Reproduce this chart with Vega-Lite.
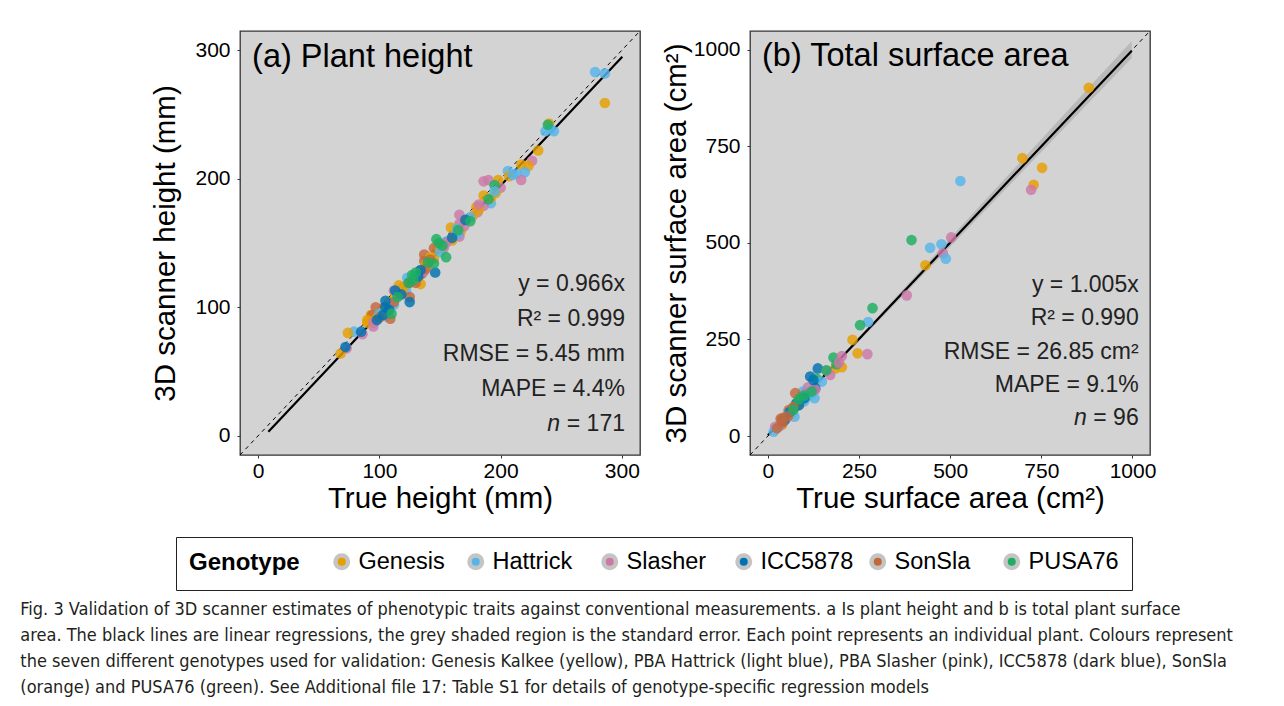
{
  "$schema": "https://vega.github.io/schema/vega-lite/v6.json",
  "background": "white",
  "padding": {"left": 20, "top": 29, "right": 5, "bottom": 5},
  "datasets": {
    "height": [
      {"true": 278, "scanner": 283, "genotype": "Hattrick"},
      {"true": 286, "scanner": 282, "genotype": "Hattrick"},
      {"true": 286, "scanner": 259, "genotype": "Genesis"},
      {"true": 240, "scanner": 243, "genotype": "Genesis"},
      {"true": 237, "scanner": 237, "genotype": "Hattrick"},
      {"true": 244, "scanner": 237, "genotype": "Hattrick"},
      {"true": 241, "scanner": 239, "genotype": "Hattrick"},
      {"true": 239, "scanner": 242, "genotype": "PUSA76"},
      {"true": 231, "scanner": 222, "genotype": "Genesis"},
      {"true": 226, "scanner": 214, "genotype": "Slasher"},
      {"true": 217, "scanner": 211, "genotype": "Genesis"},
      {"true": 223, "scanner": 210, "genotype": "Genesis"},
      {"true": 206, "scanner": 206, "genotype": "Hattrick"},
      {"true": 213, "scanner": 204, "genotype": "Hattrick"},
      {"true": 220, "scanner": 205, "genotype": "Hattrick"},
      {"true": 217, "scanner": 199, "genotype": "Slasher"},
      {"true": 186, "scanner": 198, "genotype": "Slasher"},
      {"true": 190, "scanner": 199, "genotype": "Slasher"},
      {"true": 198, "scanner": 199, "genotype": "Genesis"},
      {"true": 200, "scanner": 193, "genotype": "Slasher"},
      {"true": 196, "scanner": 189, "genotype": "Genesis"},
      {"true": 195, "scanner": 195, "genotype": "PUSA76"},
      {"true": 186, "scanner": 187, "genotype": "Genesis"},
      {"true": 192, "scanner": 181, "genotype": "Hattrick"},
      {"true": 186, "scanner": 179, "genotype": "Slasher"},
      {"true": 180, "scanner": 178, "genotype": "Genesis"},
      {"true": 181, "scanner": 174, "genotype": "Slasher"},
      {"true": 177, "scanner": 171, "genotype": "Genesis"},
      {"true": 166, "scanner": 172, "genotype": "Slasher"},
      {"true": 166, "scanner": 165, "genotype": "Slasher"},
      {"true": 159, "scanner": 162, "genotype": "Genesis"},
      {"true": 164, "scanner": 161, "genotype": "Hattrick"},
      {"true": 167, "scanner": 159, "genotype": "Genesis"},
      {"true": 160, "scanner": 154, "genotype": "Slasher"},
      {"true": 166, "scanner": 155, "genotype": "Slasher"},
      {"true": 155, "scanner": 151, "genotype": "Hattrick"},
      {"true": 152, "scanner": 147, "genotype": "Genesis"},
      {"true": 153, "scanner": 146, "genotype": "Slasher"},
      {"true": 148, "scanner": 145, "genotype": "Genesis"},
      {"true": 137, "scanner": 141, "genotype": "SonSla"},
      {"true": 145, "scanner": 146, "genotype": "SonSla"},
      {"true": 142, "scanner": 139, "genotype": "Genesis"},
      {"true": 137, "scanner": 136, "genotype": "SonSla"},
      {"true": 138, "scanner": 133, "genotype": "Genesis"},
      {"true": 135, "scanner": 126, "genotype": "SonSla"},
      {"true": 137, "scanner": 128, "genotype": "Slasher"},
      {"true": 123, "scanner": 123, "genotype": "Hattrick"},
      {"true": 134, "scanner": 118, "genotype": "Genesis"},
      {"true": 130, "scanner": 119, "genotype": "SonSla"},
      {"true": 116, "scanner": 117, "genotype": "Genesis"},
      {"true": 112, "scanner": 113, "genotype": "Slasher"},
      {"true": 119, "scanner": 111, "genotype": "Slasher"},
      {"true": 122, "scanner": 113, "genotype": "Hattrick"},
      {"true": 125, "scanner": 108, "genotype": "SonSla"},
      {"true": 113, "scanner": 108, "genotype": "Genesis"},
      {"true": 112, "scanner": 102, "genotype": "Hattrick"},
      {"true": 97, "scanner": 100, "genotype": "SonSla"},
      {"true": 104, "scanner": 100, "genotype": "SonSla"},
      {"true": 93, "scanner": 94, "genotype": "Genesis"},
      {"true": 94, "scanner": 94, "genotype": "SonSla"},
      {"true": 105, "scanner": 93, "genotype": "Hattrick"},
      {"true": 109, "scanner": 91, "genotype": "SonSla"},
      {"true": 90, "scanner": 90, "genotype": "Genesis"},
      {"true": 95, "scanner": 85, "genotype": "Slasher"},
      {"true": 90, "scanner": 88, "genotype": "Genesis"},
      {"true": 79, "scanner": 81, "genotype": "Hattrick"},
      {"true": 74, "scanner": 80, "genotype": "Genesis"},
      {"true": 86, "scanner": 79, "genotype": "Slasher"},
      {"true": 73, "scanner": 68, "genotype": "Slasher"},
      {"true": 68, "scanner": 64, "genotype": "Genesis"},
      {"true": 98, "scanner": 92, "genotype": "Genesis"},
      {"true": 102, "scanner": 96, "genotype": "Genesis"},
      {"true": 108, "scanner": 104, "genotype": "Genesis"},
      {"true": 118, "scanner": 112, "genotype": "Genesis"},
      {"true": 128, "scanner": 122, "genotype": "Genesis"},
      {"true": 140, "scanner": 133, "genotype": "Genesis"},
      {"true": 150, "scanner": 146, "genotype": "Genesis"},
      {"true": 160, "scanner": 152, "genotype": "Genesis"},
      {"true": 172, "scanner": 168, "genotype": "Genesis"},
      {"true": 182, "scanner": 176, "genotype": "Genesis"},
      {"true": 192, "scanner": 185, "genotype": "Genesis"},
      {"true": 207, "scanner": 202, "genotype": "Genesis"},
      {"true": 120, "scanner": 116, "genotype": "Genesis"},
      {"true": 145, "scanner": 138, "genotype": "Genesis"},
      {"true": 100, "scanner": 95, "genotype": "Hattrick"},
      {"true": 110, "scanner": 103, "genotype": "Hattrick"},
      {"true": 130, "scanner": 124, "genotype": "Hattrick"},
      {"true": 150, "scanner": 143, "genotype": "Hattrick"},
      {"true": 165, "scanner": 157, "genotype": "Hattrick"},
      {"true": 175, "scanner": 170, "genotype": "Hattrick"},
      {"true": 195, "scanner": 190, "genotype": "Hattrick"},
      {"true": 210, "scanner": 203, "genotype": "Hattrick"},
      {"true": 95, "scanner": 88, "genotype": "Slasher"},
      {"true": 115, "scanner": 110, "genotype": "Slasher"},
      {"true": 135, "scanner": 128, "genotype": "Slasher"},
      {"true": 155, "scanner": 150, "genotype": "Slasher"},
      {"true": 170, "scanner": 163, "genotype": "Slasher"},
      {"true": 182, "scanner": 180, "genotype": "Slasher"},
      {"true": 100, "scanner": 92, "genotype": "SonSla"},
      {"true": 112, "scanner": 104, "genotype": "SonSla"},
      {"true": 125, "scanner": 119, "genotype": "SonSla"},
      {"true": 138, "scanner": 130, "genotype": "SonSla"},
      {"true": 142, "scanner": 137, "genotype": "SonSla"},
      {"true": 171, "scanner": 168, "genotype": "ICC5878"},
      {"true": 146, "scanner": 127, "genotype": "ICC5878"},
      {"true": 134, "scanner": 129, "genotype": "ICC5878"},
      {"true": 113, "scanner": 113, "genotype": "ICC5878"},
      {"true": 125, "scanner": 104, "genotype": "ICC5878"},
      {"true": 105, "scanner": 105, "genotype": "ICC5878"},
      {"true": 105, "scanner": 100, "genotype": "ICC5878"},
      {"true": 103, "scanner": 94, "genotype": "ICC5878"},
      {"true": 85, "scanner": 81, "genotype": "ICC5878"},
      {"true": 72, "scanner": 69, "genotype": "ICC5878"},
      {"true": 98, "scanner": 90, "genotype": "ICC5878"},
      {"true": 108, "scanner": 98, "genotype": "ICC5878"},
      {"true": 118, "scanner": 110, "genotype": "ICC5878"},
      {"true": 132, "scanner": 124, "genotype": "ICC5878"},
      {"true": 160, "scanner": 154, "genotype": "ICC5878"},
      {"true": 175, "scanner": 167, "genotype": "PUSA76"},
      {"true": 147, "scanner": 153, "genotype": "PUSA76"},
      {"true": 149, "scanner": 150, "genotype": "PUSA76"},
      {"true": 155, "scanner": 139, "genotype": "PUSA76"},
      {"true": 145, "scanner": 134, "genotype": "PUSA76"},
      {"true": 130, "scanner": 127, "genotype": "PUSA76"},
      {"true": 127, "scanner": 125, "genotype": "PUSA76"},
      {"true": 124, "scanner": 119, "genotype": "PUSA76"},
      {"true": 110, "scanner": 95, "genotype": "PUSA76"},
      {"true": 115, "scanner": 108, "genotype": "PUSA76"},
      {"true": 128, "scanner": 121, "genotype": "PUSA76"},
      {"true": 140, "scanner": 135, "genotype": "PUSA76"},
      {"true": 152, "scanner": 148, "genotype": "PUSA76"},
      {"true": 165, "scanner": 160, "genotype": "PUSA76"},
      {"true": 190, "scanner": 184, "genotype": "PUSA76"}
    ],
    "area": [
      {"true": 880, "scanner": 901, "genotype": "Genesis"},
      {"true": 698, "scanner": 719, "genotype": "Genesis"},
      {"true": 752, "scanner": 694, "genotype": "Genesis"},
      {"true": 729, "scanner": 650, "genotype": "Genesis"},
      {"true": 722, "scanner": 637, "genotype": "Slasher"},
      {"true": 528, "scanner": 660, "genotype": "Hattrick"},
      {"true": 394, "scanner": 507, "genotype": "PUSA76"},
      {"true": 503, "scanner": 514, "genotype": "Slasher"},
      {"true": 476, "scanner": 496, "genotype": "Hattrick"},
      {"true": 445, "scanner": 487, "genotype": "Hattrick"},
      {"true": 480, "scanner": 473, "genotype": "Slasher"},
      {"true": 488, "scanner": 459, "genotype": "Hattrick"},
      {"true": 432, "scanner": 442, "genotype": "Genesis"},
      {"true": 381, "scanner": 364, "genotype": "Slasher"},
      {"true": 287, "scanner": 331, "genotype": "PUSA76"},
      {"true": 275, "scanner": 295, "genotype": "Hattrick"},
      {"true": 253, "scanner": 287, "genotype": "PUSA76"},
      {"true": 232, "scanner": 249, "genotype": "Genesis"},
      {"true": 246, "scanner": 214, "genotype": "Genesis"},
      {"true": 273, "scanner": 212, "genotype": "Slasher"},
      {"true": 180, "scanner": 203, "genotype": "PUSA76"},
      {"true": 203, "scanner": 207, "genotype": "Slasher"},
      {"true": 203, "scanner": 178, "genotype": "Genesis"},
      {"true": 185, "scanner": 175, "genotype": "Genesis"},
      {"true": 188, "scanner": 186, "genotype": "PUSA76"},
      {"true": 137, "scanner": 175, "genotype": "ICC5878"},
      {"true": 162, "scanner": 169, "genotype": "Slasher"},
      {"true": 171, "scanner": 158, "genotype": "Slasher"},
      {"true": 116, "scanner": 154, "genotype": "ICC5878"},
      {"true": 133, "scanner": 149, "genotype": "PUSA76"},
      {"true": 148, "scanner": 141, "genotype": "Hattrick"},
      {"true": 130, "scanner": 124, "genotype": "ICC5878"},
      {"true": 110, "scanner": 126, "genotype": "Slasher"},
      {"true": 96, "scanner": 115, "genotype": "Hattrick"},
      {"true": 110, "scanner": 104, "genotype": "PUSA76"},
      {"true": 128, "scanner": 98, "genotype": "Hattrick"},
      {"true": 89, "scanner": 98, "genotype": "PUSA76"},
      {"true": 75, "scanner": 111, "genotype": "SonSla"},
      {"true": 78, "scanner": 85, "genotype": "ICC5878"},
      {"true": 80, "scanner": 80, "genotype": "PUSA76"},
      {"true": 71, "scanner": 72, "genotype": "ICC5878"},
      {"true": 57, "scanner": 67, "genotype": "SonSla"},
      {"true": 73, "scanner": 50, "genotype": "Hattrick"},
      {"true": 48, "scanner": 50, "genotype": "SonSla"},
      {"true": 39, "scanner": 42, "genotype": "ICC5878"},
      {"true": 43, "scanner": 46, "genotype": "SonSla"},
      {"true": 20, "scanner": 24, "genotype": "Slasher"},
      {"true": 16, "scanner": 11, "genotype": "Hattrick"},
      {"true": 39, "scanner": 29, "genotype": "Genesis"},
      {"true": 31, "scanner": 26, "genotype": "SonSla"},
      {"true": 57, "scanner": 59, "genotype": "Hattrick"},
      {"true": 94, "scanner": 102, "genotype": "PUSA76"},
      {"true": 103, "scanner": 111, "genotype": "Slasher"},
      {"true": 60, "scanner": 55, "genotype": "Genesis"},
      {"true": 90, "scanner": 85, "genotype": "Genesis"},
      {"true": 30, "scanner": 25, "genotype": "Hattrick"},
      {"true": 65, "scanner": 60, "genotype": "Hattrick"},
      {"true": 100, "scanner": 90, "genotype": "Hattrick"},
      {"true": 120, "scanner": 110, "genotype": "Hattrick"},
      {"true": 35, "scanner": 30, "genotype": "Slasher"},
      {"true": 50, "scanner": 45, "genotype": "Slasher"},
      {"true": 130, "scanner": 120, "genotype": "Slasher"},
      {"true": 195, "scanner": 190, "genotype": "Slasher"},
      {"true": 45, "scanner": 40, "genotype": "ICC5878"},
      {"true": 60, "scanner": 62, "genotype": "ICC5878"},
      {"true": 85, "scanner": 80, "genotype": "ICC5878"},
      {"true": 100, "scanner": 98, "genotype": "ICC5878"},
      {"true": 125, "scanner": 145, "genotype": "ICC5878"},
      {"true": 25, "scanner": 20, "genotype": "SonSla"},
      {"true": 40, "scanner": 35, "genotype": "SonSla"},
      {"true": 55, "scanner": 52, "genotype": "SonSla"},
      {"true": 70, "scanner": 75, "genotype": "SonSla"},
      {"true": 35, "scanner": 45, "genotype": "SonSla"},
      {"true": 70, "scanner": 68, "genotype": "PUSA76"},
      {"true": 85, "scanner": 95, "genotype": "PUSA76"},
      {"true": 100, "scanner": 105, "genotype": "PUSA76"},
      {"true": 120, "scanner": 115, "genotype": "PUSA76"},
      {"true": 160, "scanner": 170, "genotype": "PUSA76"}
    ],
    "bandB": [
      {"true": 0, "lo": 0, "hi": 0},
      {"true": 998, "lo": 978, "hi": 1022}
    ]
  },
  "config": {
    "font": "Liberation Sans",
    "view": {"stroke": "#333333", "strokeWidth": 1.3, "fill": "#D3D3D3"},
    "axis": {
      "domain": false, "grid": false, "ticks": true, "tickColor": "#333333", "tickSize": 3,
      "labelFont": "Liberation Sans", "labelFontSize": 21, "labelColor": "#000000", "labelFlush": false,
      "titleFont": "Liberation Sans", "titleFontSize": 29.5, "titleFontWeight": "normal", "titleColor": "#000000",
      "format": "d"
    },
    "axisX": {"labelPadding": 2, "titlePadding": 3},
    "axisY": {"labelPadding": 7},
    "legend": {
      "orient": "none", "legendX": -64, "legendY": 506, "direction": "horizontal",
      "titleOrient": "left", "titleFont": "Liberation Sans", "titleFontSize": 24, "titleFontWeight": "bold", "titleColor": "#000000", "titlePadding": 30,
      "labelFont": "Liberation Sans", "labelFontSize": 23.5, "labelColor": "#000000", "labelOffset": 5,
      "symbolType": "circle", "symbolSize": 156, "symbolOpacity": 1, "symbolStrokeColor": "#c4c4c4", "symbolStrokeWidth": 4.5,
      "strokeColor": "#222222", "padding": 13, "columnPadding": 8, "gridAlign": "all"
    }
  },
  "title": {
    "text": [
      "Fig. 3  Validation of 3D scanner estimates of phenotypic traits against conventional measurements. a Is plant height and b is total plant surface",
      "area. The black lines are linear regressions, the grey shaded region is the standard error. Each point represents an individual plant. Colours represent",
      "the seven different genotypes used for validation: Genesis Kalkee (yellow), PBA Hattrick (light blue), PBA Slasher (pink), ICC5878 (dark blue), SonSla",
      "(orange) and PUSA76 (green). See Additional file 17: Table S1 for details of genotype-specific regression models"
    ],
    "orient": "bottom", "anchor": "start", "frame": "bounds",
    "font": "DejaVu Sans Condensed, Liberation Sans, sans-serif", "fontSize": 18, "fontWeight": "normal", "color": "#231f20",
    "lineHeight": 26, "offset": 10, "dx": -130
  },
  "resolve": {"scale": {"x": "independent", "y": "independent", "color": "shared"}},
  "spacing": 18,
  "hconcat": [
    {
      "width": 400, "height": 424,
      "layer": [
        {
          "data": {"values": [{}]},
          "mark": {"type": "rule", "color": "#000000", "strokeWidth": 1, "strokeDash": [4, 4]},
          "encoding": {
            "x": {"datum": -15, "type": "quantitative", "scale": {"domain": [-15, 315], "nice": false, "zero": false}},
            "y": {"datum": -15, "type": "quantitative", "scale": {"domain": [-15, 315], "nice": false, "zero": false}},
            "x2": {"datum": 315}, "y2": {"datum": 315}
          }
        },
        {
          "data": {"values": [{}]},
          "mark": {"type": "rule", "color": "#000000", "strokeWidth": 2.2},
          "encoding": {
            "x": {"datum": 8.4, "type": "quantitative"},
            "y": {"datum": 3.1, "type": "quantitative"},
            "x2": {"datum": 300.4}, "y2": {"datum": 295}
          }
        },
        {
          "data": {"name": "height"},
          "mark": {"type": "circle", "size": 113, "opacity": 0.82},
          "encoding": {
            "x": {"field": "true", "type": "quantitative", "title": "True height (mm)",
                  "axis": {"values": [0, 100, 200, 300]}},
            "y": {"field": "scanner", "type": "quantitative", "title": "3D scanner height (mm)",
                  "axis": {"values": [0, 100, 200, 300], "titlePadding": 14}},
            "color": {"field": "genotype", "type": "nominal", "title": "Genotype",
                      "scale": {"domain": ["Genesis", "Hattrick", "Slasher", "ICC5878", "SonSla", "PUSA76"],
                                "range": ["#E69F00", "#56B4E9", "#CC79A7", "#0072B2", "#C4683A", "#1DAE62"]},
                      "legend": {"encode": {"symbols": {"update": {"stroke": {"value": "#c4c4c4"}, "strokeWidth": {"value": 4.5}, "opacity": {"value": 1}}}}}}
          }
        },
        {
          "data": {"values": [{}]},
          "mark": {"type": "text", "align": "left", "baseline": "alphabetic", "fontSize": 32.5, "color": "#000000"},
          "encoding": {
            "x": {"datum": -5, "type": "quantitative"},
            "y": {"datum": 287, "type": "quantitative"},
            "text": {"value": "(a) Plant height"}
          }
        },
        {
          "data": {"values": [{}]},
          "mark": {"type": "text", "align": "right", "baseline": "alphabetic", "fontSize": 23, "lineHeight": 35, "color": "#222222"},
          "encoding": {
            "x": {"datum": 302.6, "type": "quantitative"},
            "y": {"datum": 112.6, "type": "quantitative"},
            "text": {"value": ["y = 0.966x", "R² = 0.999", "RMSE = 5.45 mm", "MAPE = 4.4%"]}
          }
        },
        {
          "data": {"values": [{}]},
          "mark": {"type": "text", "align": "right", "baseline": "alphabetic", "fontSize": 23, "color": "#222222"},
          "encoding": {
            "x": {"datum": 302.6, "type": "quantitative"},
            "y": {"datum": 3.7, "type": "quantitative"},
            "text": {"value": " = 171"}
          }
        },
        {
          "data": {"values": [{}]},
          "mark": {"type": "text", "align": "right", "baseline": "alphabetic", "fontSize": 23, "fontStyle": "italic", "color": "#222222", "dx": -65},
          "encoding": {
            "x": {"datum": 302.6, "type": "quantitative"},
            "y": {"datum": 3.7, "type": "quantitative"},
            "text": {"value": "n"}
          }
        }
      ]
    },
    {
      "width": 400, "height": 424,
      "layer": [
        {
          "data": {"name": "bandB"},
          "mark": {"type": "area", "color": "#999999", "opacity": 0.45},
          "encoding": {
            "x": {"field": "true", "type": "quantitative", "scale": {"domain": [-49, 1048], "nice": false, "zero": false}},
            "y": {"field": "lo", "type": "quantitative", "scale": {"domain": [-49, 1048], "nice": false, "zero": false}},
            "y2": {"field": "hi"}
          }
        },
        {
          "data": {"values": [{}]},
          "mark": {"type": "rule", "color": "#000000", "strokeWidth": 1, "strokeDash": [4, 4]},
          "encoding": {
            "x": {"datum": -49, "type": "quantitative"},
            "y": {"datum": -49, "type": "quantitative"},
            "x2": {"datum": 1048}, "y2": {"datum": 1048}
          }
        },
        {
          "data": {"values": [{}]},
          "mark": {"type": "rule", "color": "#000000", "strokeWidth": 2.2},
          "encoding": {
            "x": {"datum": 0, "type": "quantitative"},
            "y": {"datum": 2, "type": "quantitative"},
            "x2": {"datum": 998}, "y2": {"datum": 997}
          }
        },
        {
          "data": {"name": "area"},
          "mark": {"type": "circle", "size": 113, "opacity": 0.82},
          "encoding": {
            "x": {"field": "true", "type": "quantitative", "title": "True surface area (cm²)",
                  "axis": {"values": [0, 250, 500, 750, 1000]}},
            "y": {"field": "scanner", "type": "quantitative", "title": "3D scanner surface area (cm²)",
                  "axis": {"values": [0, 250, 500, 750, 1000], "titlePadding": 2}},
            "color": {"field": "genotype", "type": "nominal", "title": "Genotype"}
          }
        },
        {
          "data": {"values": [{}]},
          "mark": {"type": "text", "align": "left", "baseline": "alphabetic", "fontSize": 32.5, "color": "#000000"},
          "encoding": {
            "x": {"datum": -16, "type": "quantitative"},
            "y": {"datum": 957, "type": "quantitative"},
            "text": {"value": "(b) Total surface area"}
          }
        },
        {
          "data": {"values": [{}]},
          "mark": {"type": "text", "align": "right", "baseline": "alphabetic", "fontSize": 23, "lineHeight": 33.5, "color": "#222222"},
          "encoding": {
            "x": {"datum": 1017, "type": "quantitative"},
            "y": {"datum": 374, "type": "quantitative"},
            "text": {"value": ["y = 1.005x", "R² = 0.990", "RMSE = 26.85 cm²", "MAPE = 9.1%"]}
          }
        },
        {
          "data": {"values": [{}]},
          "mark": {"type": "text", "align": "right", "baseline": "alphabetic", "fontSize": 23, "color": "#222222"},
          "encoding": {
            "x": {"datum": 1017, "type": "quantitative"},
            "y": {"datum": 28.6, "type": "quantitative"},
            "text": {"value": " = 96"}
          }
        },
        {
          "data": {"values": [{}]},
          "mark": {"type": "text", "align": "right", "baseline": "alphabetic", "fontSize": 23, "fontStyle": "italic", "color": "#222222", "dx": -52},
          "encoding": {
            "x": {"datum": 1017, "type": "quantitative"},
            "y": {"datum": 28.6, "type": "quantitative"},
            "text": {"value": "n"}
          }
        }
      ]
    }
  ]
}
